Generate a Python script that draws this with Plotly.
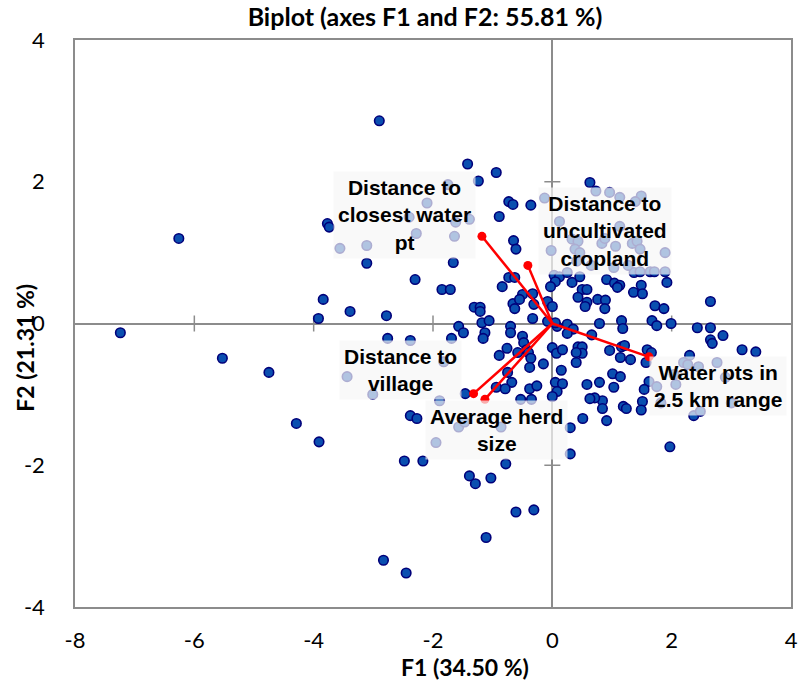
import plotly.graph_objects as go

# Observation scores on the first two factors
obs_f1 = [
    -7.24, -6.26, -5.53, -4.75, -4.29, -3.91, -2.90, -3.77, -3.74, -3.56,
    -3.11, -2.40, -2.28, -2.10, -1.75, -1.24, -1.42, -0.94, -1.62, -1.39,
    -1.64, -3.11, -1.66, -2.30, -1.85, -1.71, -3.84, -3.39, -2.78, -3.92,
    -1.31, -1.21, -1.21, -1.18, -1.06, -1.57, -2.76, -3.44, -3.01, -2.83,
    -2.45, -2.48, -2.17, -2.38, -2.38, -0.73, -0.66, -0.36, -0.13, -0.89,
    -0.65, -0.61, -0.02, 0.12, 0.33, 0.43, 0.38, 0.46, 0.63, -0.73,
    -0.63, -0.84, -0.50, -0.33, -0.66, -0.55, -0.31, -0.63, -0.08, 0.00,
    -0.33, -0.08, 0.03, 0.12, 0.25, 0.05, -0.03, 0.33, 0.46, 0.50,
    0.58, 0.43, 0.58, 0.55, 0.65, 0.41, 0.73, 0.96, 1.13, 1.49,
    1.39, 0.83, 1.06, 1.34, 1.42, 1.47, 1.89, 1.13, 0.88, 0.76,
    0.89, 0.88, 0.91, 1.04, 1.13, 1.09, 1.37, 1.47, 1.64, 1.71,
    1.89, 1.92, 1.49, 1.36, 1.51, 1.72, 1.87, 2.65, 0.08, 0.25,
    0.35, 0.25, 0.79, 0.66, 1.16, 1.18, 1.67, 1.75, 1.99, 2.43,
    2.65, 2.86, 1.03, 1.27, 2.65, 2.68, 3.18, 3.41, 0.96, 1.16,
    1.21, 1.14, 1.31, 1.59, 1.66, 1.01, 1.14, 0.79, 1.03, 0.84,
    0.84, 1.19, 1.24, 0.91, 1.97, 2.37, 2.48, 0.71, 1.57, 1.62,
    1.54, 1.75, 1.51, 1.49, 1.82, 2.07, 2.30, 2.20, 2.27, 2.45,
    2.76, 2.90, 3.00, 2.04, -1.49, -1.13, -1.16, -0.70, -0.70, -0.50,
    -0.48, -0.43, -0.40, -0.36, -0.38, -0.58, -0.76, -0.89, -0.15, -0.75,
    -0.68, -0.94, -0.79, -0.38, -0.26, 0.00, 0.07, 0.17, 0.15, 0.05,
    0.17, 0.08, 0.00, 0.43, 0.50, 0.50, 0.40, 0.40, 0.58, 0.63,
    0.51, -0.78, -1.39, -1.29, -1.03, -1.69, 0.05, -1.82, -1.46, -1.89,
    -0.53, -0.35, -2.27, -1.57, -1.47, -0.86, -1.95, 0.30, 0.30, -0.61,
    -0.31, -1.11,
]
obs_f2 = [
    -0.13, 1.20, -0.49, -0.69, -1.41, -1.67, 2.86, 1.41, 1.36, 1.06,
    1.10, 1.50, 1.27, 1.70, 1.96, 2.01, 2.25, 2.13, 1.43, 1.47,
    1.23, 0.85, 0.86, 0.62, 0.48, 0.48, 0.34, 0.17, 0.11, 0.07,
    0.23, 0.23, 0.17, 0.01, 0.04, -0.04, -0.21, -0.75, -1.00, -3.34,
    -3.52, -1.94, -1.94, -1.30, -0.24, 1.72, 1.68, 1.67, 1.77, 1.51,
    1.17, 1.05, 1.03, 1.44, 1.19, 1.16, 1.05, 1.00, 1.99, 0.65,
    0.65, 0.52, 0.41, 0.42, 0.28, 0.34, 0.27, 0.21, 0.31, 0.24,
    0.07, 0.03, 0.68, 0.66, 0.72, 0.59, 0.52, 0.58, 0.66, 0.48,
    0.48, 0.37, 0.30, 0.24, 0.82, 0.88, 1.87, 1.85, 1.78, 1.80,
    1.72, 1.13, 1.09, 1.13, 1.16, 1.05, 1.00, 1.37, 1.20, 0.34,
    0.33, 0.21, 0.62, 0.57, 0.54, 0.51, 0.72, 0.73, 0.73, 0.73,
    0.73, 0.58, 0.54, 0.44, 0.42, 0.25, 0.21, 0.31, -0.04, -0.01,
    -0.08, -0.14, 0.00, -0.16, 0.04, -0.07, 0.04, -0.03, 0.00, -0.06,
    -0.06, -0.17, 0.79, 0.82, -0.23, -0.28, -0.37, -0.40, -0.38, -0.33,
    -0.31, -0.48, -0.51, -0.37, -0.41, -0.71, -0.75, -0.83, -0.90, -1.09,
    -1.20, -1.17, -1.20, -1.37, -1.74, -1.30, -1.24, -1.05, -0.55, -0.82,
    -0.93, -0.89, -1.10, -1.22, -1.12, -0.86, -0.45, -0.55, -0.58, -0.61,
    -0.55, -0.76, -1.12, -0.72, -0.13, -0.13, -0.21, -0.04, -0.13, -0.18,
    -0.27, -0.37, -0.41, -0.49, -0.62, -0.41, -0.35, -0.45, -0.57, -0.69,
    -0.83, -0.90, -0.92, -0.92, -0.88, -0.34, -0.42, -0.37, -0.66, -0.83,
    -0.85, -0.96, -1.03, -0.33, -0.33, -0.42, -0.55, -0.41, -0.86, -1.06,
    -1.34, -1.98, -2.15, -2.26, -2.18, -0.21, 0.01, -0.54, -0.99, -1.09,
    -1.07, -1.07, -1.34, -1.46, -1.39, -1.46, -1.68, -1.47, -1.84, -2.66,
    -2.63, -3.02,
]

# Variable loadings (vector tips)
var_names = [
    "Distance to<br>closest water<br>pt",
    "Distance to<br>uncultivated<br>cropland",
    "Distance to<br>village",
    "Average herd<br>size",
    "Water pts in<br>2.5 km range",
]
var_f1 = [-1.18, -0.41, -1.32, -1.13, 1.62]
var_f2 = [1.23, 0.82, -0.99, -1.07, -0.47]

# Label anchor points for the variables
label_f1 = [-2.48, 0.88, -2.55, -0.94, 2.78]
label_f2 = [1.53, 1.31, -0.65, -1.50, -0.88]

x_ticks = [-8, -6, -4, -2, 0, 2, 4]
y_ticks = [-4, -2, 0, 2, 4]

AXIS_GREY = "#8c8c8c"
UI_FONT = "Lato, Open Sans, sans-serif"
TICK_FONT = dict(family=UI_FONT, size=22, color="black")

fig = go.Figure()

fig.add_trace(go.Scatter(
    x=obs_f1, y=obs_f2, mode="markers",
    marker=dict(size=9.5, color="#0a4fb0", line=dict(color="#00007a", width=1.6)),
    hoverinfo="x+y", showlegend=False,
))

# Vectors from the origin to each variable
vx, vy = [], []
for a, b in zip(var_f1, var_f2):
    vx += [0, a, None]
    vy += [0, b, None]
fig.add_trace(go.Scatter(
    x=vx, y=vy, mode="lines", line=dict(color="#ff0000", width=2.5),
    hoverinfo="skip", showlegend=False,
))
fig.add_trace(go.Scatter(
    x=var_f1, y=var_f2, mode="markers",
    marker=dict(size=9, color="#ff0000"),
    text=[n.replace("<br>", " ") for n in var_names], hoverinfo="text",
    showlegend=False,
))

# Variable labels on translucent panels
for name, lx, ly in zip(var_names, label_f1, label_f2):
    fig.add_annotation(
        x=lx, y=ly, xref="x", yref="y", text="<b>" + name + "</b>",
        showarrow=False, align="center",
        font=dict(family="Liberation Sans, Arial, sans-serif", size=21, color="black"),
        bgcolor="rgba(246,246,246,0.70)", borderpad=4,
    )

# Cross ticks along the zero lines
shapes = []
for v in x_ticks:
    if v not in (0, x_ticks[0], x_ticks[-1]):
        shapes.append(dict(type="line", xref="x", yref="y", x0=v, x1=v,
                           ysizemode="pixel", yanchor=0, y0=-8, y1=8,
                           line=dict(color=AXIS_GREY, width=1.5), layer="below"))
for v in y_ticks:
    if v not in (0, y_ticks[0], y_ticks[-1]):
        shapes.append(dict(type="line", xref="x", yref="y", y0=v, y1=v,
                           xsizemode="pixel", xanchor=0, x0=-8, x1=8,
                           line=dict(color=AXIS_GREY, width=1.5), layer="below"))

fig.add_annotation(
    x=0.544, y=-0.105, xref="paper", yref="paper", text="<b>F1 (34.50 %)</b>",
    showarrow=False, xanchor="center", yanchor="middle",
    font=dict(family=UI_FONT, size=23, color="black"),
)
fig.add_annotation(
    x=-0.07, y=0.457, xref="paper", yref="paper", text="<b>F2 (21.31 %)</b>",
    showarrow=False, textangle=-90, xanchor="center", yanchor="middle",
    font=dict(family=UI_FONT, size=23, color="black"),
)

fig.update_layout(
    width=808, height=684,
    margin=dict(l=75, r=10, t=40, b=77),
    paper_bgcolor="white", plot_bgcolor="white",
    title=dict(text="<b>Biplot (axes F1 and F2: 55.81 %)</b>", x=0.526, xref="container",
               y=0.975, yref="container", xanchor="center", yanchor="middle",
               font=dict(family=UI_FONT, size=25, color="black")),
    shapes=shapes,
    hovermode="closest",
)
fig.update_xaxes(
    range=[-8, 4], tickvals=x_ticks, ticktext=[str(v) for v in x_ticks],
    showgrid=False, zeroline=True,
    zerolinecolor=AXIS_GREY, zerolinewidth=1.5, showline=True, mirror=True,
    linecolor=AXIS_GREY, linewidth=1.5, ticks="", tickfont=TICK_FONT,
    ticklabelstandoff=13,
)
fig.update_yaxes(
    range=[-4, 4], tickvals=y_ticks, ticktext=[str(v) for v in y_ticks],
    showgrid=False, zeroline=True,
    zerolinecolor=AXIS_GREY, zerolinewidth=1.5, showline=True, mirror=True,
    linecolor=AXIS_GREY, linewidth=1.5, ticks="", tickfont=TICK_FONT,
    ticklabelstandoff=24,
)

fig.write_html("out.html")
